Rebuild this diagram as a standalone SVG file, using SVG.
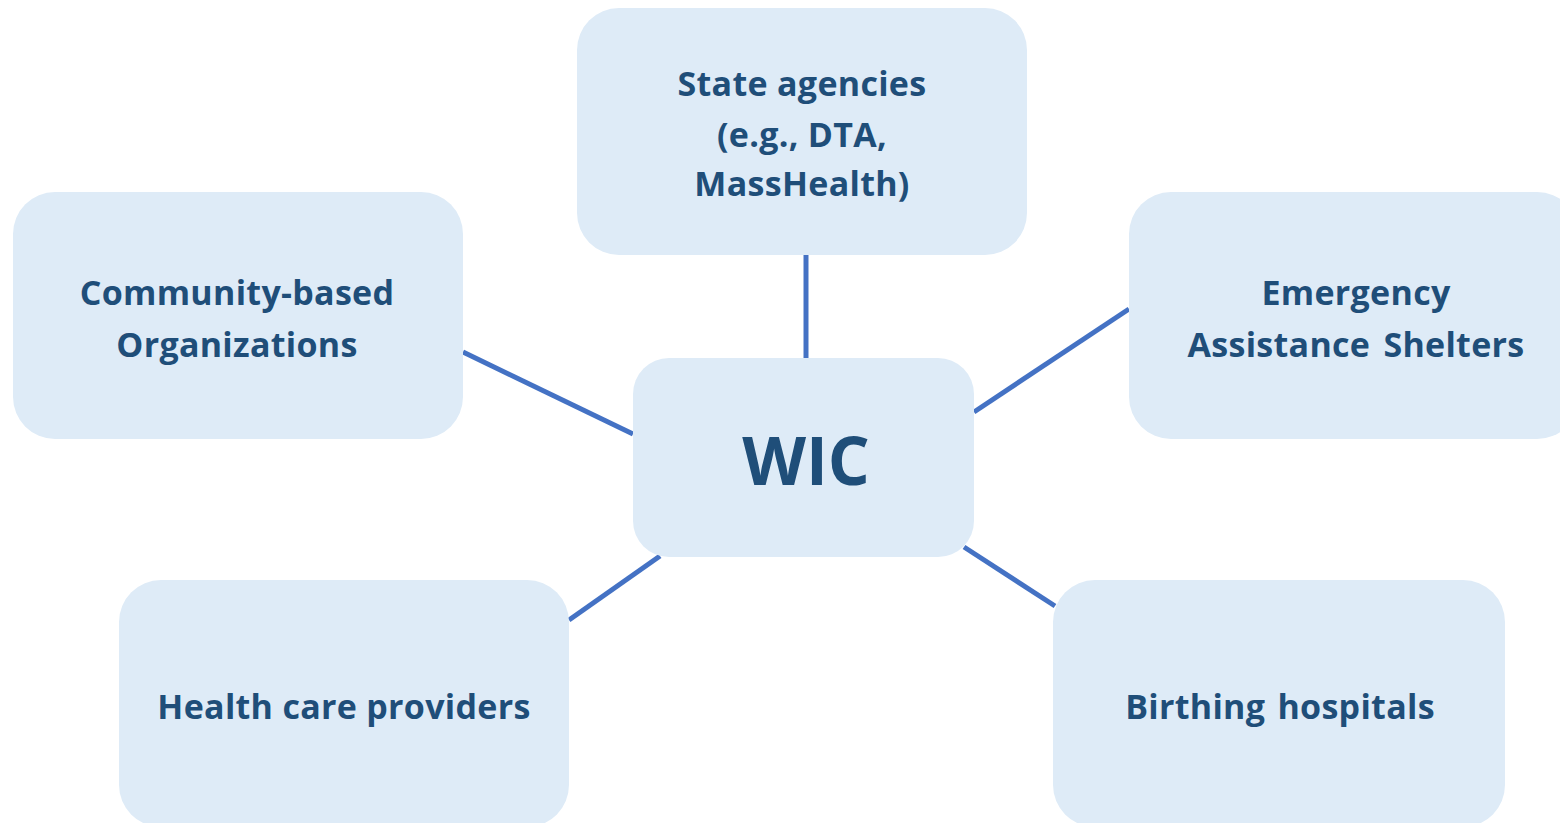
<svg xmlns="http://www.w3.org/2000/svg" width="1560" height="823" viewBox="0 0 1560 823">
<style>
.box{fill:#DEEBF7;}
.t{font-family:"Open Sans","Liberation Sans",sans-serif;font-weight:bold;fill:#1F4E79;font-size:34px;text-anchor:middle;letter-spacing:0.3px;}
.c{stroke:#4472C4;stroke-width:5;fill:none;}
</style>
<rect width="1560" height="823" fill="#FFFFFF"/>
<g id="connectors">
<line class="c" x1="806" y1="255" x2="806" y2="358"/>
<line class="c" x1="463" y1="352" x2="633" y2="434"/>
<line class="c" x1="1129" y1="309" x2="974" y2="412"/>
<line class="c" x1="569" y1="620" x2="660" y2="556"/>
<line class="c" x1="964" y1="547" x2="1055" y2="606"/>
</g>
<g id="state">
<rect class="box" x="577" y="8" width="450" height="247" rx="42"/>
<text class="t" x="802" y="96">State agencies</text>
<text class="t" x="802" y="147">(e.g., DTA,</text>
<text class="t" x="802" y="196">MassHealth)</text>
</g>
<g id="community">
<rect class="box" x="13" y="192" width="450" height="247" rx="42"/>
<text class="t" x="237" y="305">Community-based</text>
<text class="t" x="237" y="357">Organizations</text>
</g>
<g id="emergency">
<rect class="box" x="1129" y="192" width="450" height="247" rx="42"/>
<text class="t" x="1356" y="305">Emergency</text>
<text class="t" x="1356" y="357" word-spacing="4">Assistance Shelters</text>
</g>
<g id="wic">
<rect class="box" x="633" y="358" width="341" height="199" rx="36"/>
<text class="t" x="806" y="485" style="font-size:66px;letter-spacing:0">WIC</text>
</g>
<g id="health">
<rect class="box" x="119" y="580" width="450" height="247" rx="42"/>
<text class="t" x="344" y="719">Health care providers</text>
</g>
<g id="birthing">
<rect class="box" x="1053" y="580" width="452" height="247" rx="42"/>
<text class="t" x="1280" y="719" word-spacing="3">Birthing hospitals</text>
</g>
</svg>
